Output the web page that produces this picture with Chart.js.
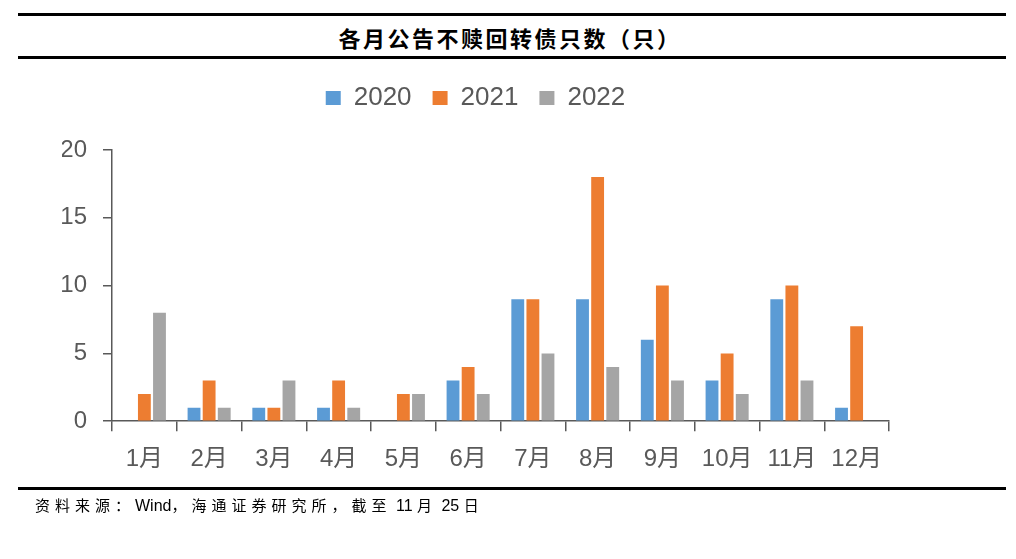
<!DOCTYPE html>
<html>
<head>
<meta charset="utf-8">
<script src="https://cdn.jsdelivr.net/npm/chart.js@4"></script>
<style>
  html, body { margin: 0; padding: 0; background: #fff; }
  #wrap { position: relative; width: 1016px; height: 559px; overflow: hidden; }
  #c { position: absolute; left: 0; top: 0; }
  .rule { position: absolute; left: 18px; width: 988px; height: 3px; background: #000; }
  #title { position: absolute; left: 2px; width: 1016px; top: 21px; text-align: center;
    font-family: "Noto Sans CJK SC", sans-serif; font-weight: 700; font-size: 22px; line-height: 32px;
    letter-spacing: 2.5px; color: #000; }
  #src { position: absolute; left: 35px; top: 494px; font-size: 16px; line-height: 22px; color: #000; white-space: pre; }
  #src .cj { font-family: "Noto Sans CJK SC", sans-serif; font-size: 15px; letter-spacing: 5px; }
  #src .lt { font-family: "Liberation Sans", Arial, sans-serif; font-size: 16px; }
</style>
</head>
<body>
<div id="wrap">
  <div class="rule" style="top:13px"></div>
  <div id="title">各月公告不赎回转债只数（只）</div>
  <div class="rule" style="top:56px"></div>
  <canvas id="c" width="1016" height="559"></canvas>
  <div class="rule" style="top:487px"></div>
  <div id="src"><span class="cj">资料来源：</span><span class="lt">Wind</span><span class="cj">，海通证券研究所，截至</span><span class="lt"> 11 </span><span class="cj">月</span><span class="lt"> 25 </span><span class="cj">日</span></div>
</div>
<script>
const categories = ["1月","2月","3月","4月","5月","6月","7月","8月","9月","10月","11月","12月"];
const seriesNames = ["2020","2021","2022"];
const values2020 = [0, 1, 1, 1, 0, 3, 9, 9, 6, 3, 9, 1];
const values2021 = [2, 3, 1, 3, 2, 4, 9, 18, 10, 5, 10, 7];
const values2022 = [8, 1, 3, 1, 2, 2, 5, 4, 3, 2, 3, null];
const yTicks = [0, 5, 10, 15, 20];
const colors = ["#5B9BD5", "#ED7D31", "#A5A5A5"];

const textColor = "#595959";
const axisColor = "#595959";
const tickFont = { family: "'Liberation Sans', 'Noto Sans CJK SC', sans-serif", size: 24 };

const legendGap = {
  id: "legendGap",
  beforeInit(chart) {
    const orig = chart.legend.fit;
    chart.legend.fit = function () { orig.bind(this)(); this.height += 29; };
  }
};

new Chart(document.getElementById("c"), {
  type: "bar",
  data: {
    labels: categories,
    datasets: [values2020, values2021, values2022].map((v, i) => ({
      label: seriesNames[i],
      data: v,
      backgroundColor: colors[i],
      borderWidth: 0,
      barPercentage: 0.85,
      categoryPercentage: 0.7
    }))
  },
  plugins: [legendGap],
  options: {
    responsive: false,
    animation: false,
    layout: { padding: { left: 62, right: 127, top: 64, bottom: 71 } },
    plugins: {
      legend: {
        position: "top",
        labels: {
          color: textColor,
          font: { family: "'Liberation Sans', sans-serif", size: 26 },
          boxWidth: 15,
          boxHeight: 14,
          padding: 21
        }
      },
      tooltip: { enabled: false }
    },
    scales: {
      x: {
        offset: true,
        grid: { offset: true, drawOnChartArea: false, drawTicks: true, tickLength: 10, color: axisColor, lineWidth: 1.5 },
        border: { display: true, color: axisColor, width: 1.5 },
        ticks: { color: textColor, font: tickFont, padding: 14, maxRotation: 0, autoSkip: false }
      },
      y: {
        min: 0, max: 20,
        afterFit: (s) => { s.width = 50; },
        afterBuildTicks: (s) => { s.ticks = yTicks.map(v => ({ value: v })); },
        grid: { drawOnChartArea: false, drawTicks: true, tickLength: 9, color: axisColor, lineWidth: 1.5 },
        border: { display: true, color: axisColor, width: 1.5 },
        ticks: { color: textColor, font: tickFont, padding: 16 }
      }
    }
  }
});
</script>
</body>
</html>
